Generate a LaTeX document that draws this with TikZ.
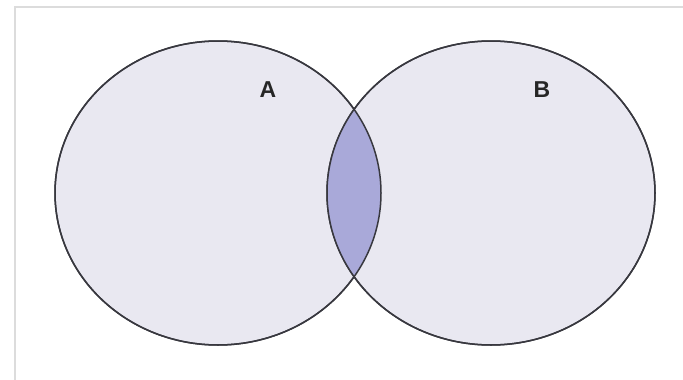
\documentclass[tikz,border=0pt]{standalone}
\usepackage{fontspec}
\setmainfont{Liberation Sans}
\definecolor{setfill}{HTML}{E9E8F1}
\definecolor{both}{HTML}{A9A9D9}
\definecolor{rim}{HTML}{38383F}
\definecolor{frame}{HTML}{DCDCDC}
\begin{document}
\begin{tikzpicture}[x=1pt,y=-1pt,
  set/.style={draw=rim,line width=1.5pt,fill=setfill},
  rimline/.style={draw=rim,line width=1.5pt},
  lbl/.style={font=\fontsize{23}{23}\selectfont\bfseries,text=black!85,inner sep=0pt}]
\useasboundingbox (0,0) rectangle (683,380);
\fill[white] (0,0) rectangle (683,380);
\draw[frame,line width=2pt] (15,380) |- (683,7);
% the two sets
\coordinate (ca) at (218,193);
\coordinate (cb) at (491,193);
\path[set] (ca) ellipse [x radius=163,y radius=152];
\path[set] (cb) ellipse [x radius=164,y radius=152];
% overlap
\begin{scope}
\clip (ca) ellipse [x radius=163,y radius=152];
\fill[both] (cb) ellipse [x radius=164,y radius=152];
\end{scope}
\path[rimline] (ca) ellipse [x radius=163,y radius=152];
\path[rimline] (cb) ellipse [x radius=164,y radius=152];
\node[lbl] (a) at (268,90) {A};
\node[lbl] (b) at (542,90) {B};
\end{tikzpicture}
\end{document}
